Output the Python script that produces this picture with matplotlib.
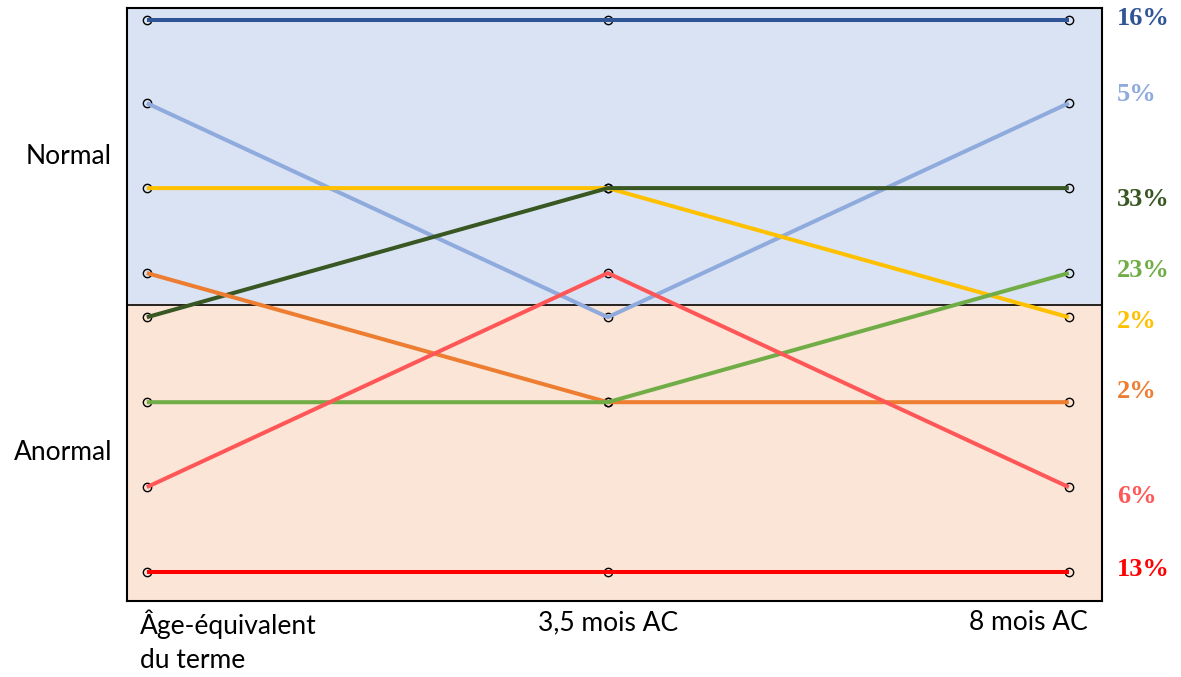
import matplotlib
matplotlib.use("Agg")
import matplotlib.pyplot as plt
import matplotlib.transforms as mtransforms

# Time points
timepoints = ["Âge-équivalent\ndu terme", "3,5 mois AC", "8 mois AC"]

# Rank of each trajectory at each time point (1 = top of Normal, 8 = bottom of Anormal)
dark_blue = [1, 1, 1]
light_blue = [2, 5, 2]
yellow = [3, 3, 5]
dark_green = [5, 3, 3]
orange = [4, 6, 6]
green = [6, 6, 4]
pink_red = [7, 4, 7]
red = [8, 8, 8]

# Share of infants following each trajectory
pcts = ["16%", "5%", "2%", "33%", "2%", "23%", "6%", "13%"]

series = [dark_blue, light_blue, yellow, dark_green, orange, green, pink_red, red]
colors = ["#2F5597", "#8FAADC", "#FFC000", "#385723",
          "#ED7D31", "#70AD47", "#FF5757", "#FF0000"]
# vertical nudge (points) of each percentage label
label_dy = [1, 6.5, -3, -8, 8, 2, -6.5, 2]

# Vertical position of each rank: four Normal rows, a gap, four Anormal rows
RANK_Y = {1: 6.5, 2: 5.52, 3: 4.52, 4: 3.52, 5: 3.0, 6: 2.0, 7: 1.0, 8: 0.0}
BOUNDARY = 3.15
YMIN, YMAX = -0.34, 6.64

fig = plt.figure(figsize=(11.81, 6.77), dpi=100)
W, H = 1181, 677
ax = fig.add_axes([127 / W, (H - 601) / H, (1102 - 127) / W, (601 - 8) / H])
ax.set_xlim(-0.043, 2.072)
ax.set_ylim(YMIN, YMAX)

# Background bands
ax.axhspan(BOUNDARY, YMAX, color="#DAE3F3", zorder=0)
ax.axhspan(YMIN, BOUNDARY, color="#FBE5D6", zorder=0)
ax.axhline(BOUNDARY, color="black", lw=1.2, zorder=1)

x = list(range(len(timepoints)))
for vals, col in zip(series, colors):
    ys = [RANK_Y[v] for v in vals]
    ax.plot(x, ys, "o", ms=6, mfc="none", mec="black", mew=1.0, zorder=2)
    ax.plot(x, ys, color=col, lw=2.9, solid_capstyle="butt", zorder=3)

# Percentages on the right, next to each trajectory's final position
trans = mtransforms.blended_transform_factory(ax.transAxes, ax.transData)
for vals, col, p, dy in zip(series, colors, pcts, label_dy):
    ax.annotate(p, (1.015, RANK_Y[vals[-1]]), xycoords=trans,
                xytext=(0, dy), textcoords="offset points",
                ha="left", va="center", fontsize=19, fontweight="bold",
                color=col, family="Liberation Serif")

for sp in ax.spines.values():
    sp.set_linewidth(1.5)
    sp.set_color("black")
ax.set_xticks([])
ax.set_yticks([])

# Row group labels
ax.text(-0.0154, 0.75, "Normal", transform=ax.transAxes, ha="right", va="center",
        fontsize=19, family="Lato")
ax.text(-0.0154, 0.25, "Anormal", transform=ax.transAxes, ha="right", va="center",
        fontsize=19, family="Lato")

# Time point labels
ax.text(0.013, -0.015, timepoints[0], transform=ax.transAxes, ha="left", va="top",
        fontsize=19, family="Lato", linespacing=1.45)
ax.text(1, -0.015, timepoints[1],
        transform=mtransforms.blended_transform_factory(ax.transData, ax.transAxes),
        ha="center", va="top", fontsize=19, family="Lato")
ax.text(0.985, -0.015, timepoints[2], transform=ax.transAxes, ha="right", va="top",
        fontsize=19, family="Lato")

fig.savefig("out.png", dpi=100)
